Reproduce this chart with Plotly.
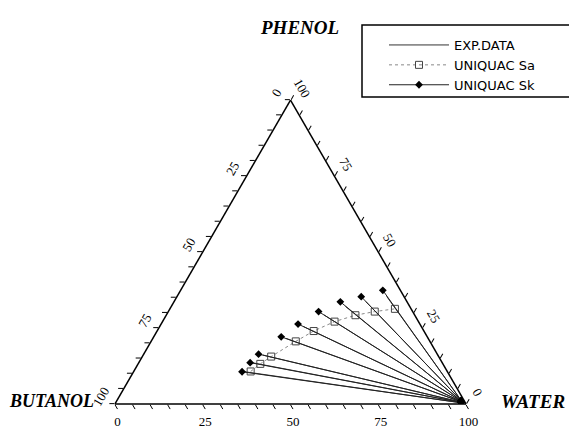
import plotly.graph_objects as go

# tie lines, mass %  (phenol, butanol, water)
# experimental organic-phase ends
exp_phenol = [10.6, 13.5, 16.1, 21.6, 25.5, 29.3, 32.1, 33.7, 35.4]
exp_butanol = [57.7, 53.8, 49.8, 40.5, 33.6, 25.8, 18.3, 11.7, 4.9]
exp_water = [31.7, 32.7, 34.1, 37.9, 40.9, 44.9, 49.6, 54.6, 59.7]

# aqueous-phase ends (all crowd into the water corner)
aq_phenol = [0.4, 0.5, 0.6, 0.7, 0.8, 0.9, 1.0, 1.1, 1.2]
aq_butanol = [1.2, 1.1, 1.1, 1.0, 1.0, 0.9, 0.9, 0.8, 0.8]
aq_water = [98.4, 98.4, 98.3, 98.3, 98.2, 98.2, 98.1, 98.1, 98.0]

# UNIQUAC Sa, organic phase
sa_phenol = [10.7, 13.2, 15.6, 20.6, 24.0, 27.1, 29.2, 30.4, 31.3]
sa_butanol = [56.0, 52.0, 47.7, 38.2, 31.4, 23.9, 16.9, 10.8, 4.6]
sa_water = [33.3, 34.8, 36.7, 41.2, 44.6, 49.0, 53.9, 58.8, 64.1]

# UNIQUAC Sk, organic phase
sk_phenol = [10.6, 13.6, 16.4, 22.1, 26.3, 30.4, 33.6, 35.3, 37.4]
sk_butanol = [58.5, 54.7, 50.9, 41.6, 34.7, 26.8, 19.0, 12.2, 5.0]
sk_water = [30.9, 31.7, 32.7, 36.3, 39.0, 42.8, 47.4, 52.5, 57.6]

tick_vals = list(range(0, 101, 5))
tick_text = [str(100 - v) if v % 25 == 0 else '' for v in tick_vals]


def segments(p1, b1, w1, p2, b2, w2):
    a, b, c = [], [], []
    for i in range(len(p1)):
        a += [p1[i], p2[i], None]
        b += [b1[i], b2[i], None]
        c += [w1[i], w2[i], None]
    return a, b, c


fig = go.Figure()

ea, eb, ec = segments(exp_phenol, exp_butanol, exp_water, aq_phenol, aq_butanol, aq_water)
fig.add_trace(go.Scatterternary(
    name='EXP.DATA',
    a=ea, b=eb, c=ec,
    mode='lines',
    line=dict(color='#333333', width=1),
))

fig.add_trace(go.Scatterternary(
    name='UNIQUAC Sa',
    a=sa_phenol, b=sa_butanol, c=sa_water,
    mode='lines+markers',
    line=dict(color='#888888', width=1, dash='dot'),
    marker=dict(symbol='square-open', size=7, color='#444444', line=dict(width=1)),
))

ka, kb, kc = segments(sk_phenol, sk_butanol, sk_water, aq_phenol, aq_butanol, aq_water)
fig.add_trace(go.Scatterternary(
    name='UNIQUAC Sk',
    a=ka, b=kb, c=kc,
    mode='lines+markers',
    line=dict(color='#222222', width=1),
    marker=dict(symbol='diamond', size=6, color='black'),
))

axis_style = dict(
    tickmode='array',
    tickvals=tick_vals,
    ticktext=tick_text,
    ticks='outside',
    ticklen=5,
    tickwidth=1,
    tickcolor='black',
    linecolor='black',
    linewidth=1.5,
    showgrid=False,
    tickfont=dict(family='Liberation Serif', size=13, color='black'),
    title=dict(text=''),
)

# page body has an 8px margin, so the figure is 8px smaller than the window
W, H = 569, 430
title_font = dict(family='Liberation Serif', size=19, color='black')

fig.update_layout(
    width=W, height=H,
    margin=dict(l=0, r=0, t=0, b=0),
    paper_bgcolor='white',
    ternary=dict(
        sum=100,
        bgcolor='white',
        domain=dict(x=[107 / W, 458 / W], y=[1 - 396 / H, 1 - 92 / H]),
        aaxis=dict(axis_style, tickangle=-60),
        baxis=dict(axis_style),
        caxis=dict(axis_style, tickangle=60),
    ),
    showlegend=True,
    legend=dict(
        x=376 / W, y=1 - 22 / H, xanchor='left', yanchor='top',
        bgcolor='rgba(0,0,0,0)', borderwidth=0,
        font=dict(family='DejaVu Sans', size=13, color='black'),
        itemwidth=60,
    ),
    # legend frame
    shapes=[dict(type='rect', xref='paper', yref='paper',
                 x0=354 / W, x1=565 / W, y0=1 - 89 / H, y1=1 - 17 / H,
                 line=dict(color='black', width=1.5))],
    annotations=[
        dict(text='<b><i>PHENOL</i></b>', x=291 / W, y=1 - 7 / H, xref='paper', yref='paper',
             xanchor='center', showarrow=False, font=title_font),
        dict(text='<b><i>BUTANOL</i></b>', x=43 / W, y=1 - 405 / H, xref='paper', yref='paper',
             xanchor='center', showarrow=False, font=dict(title_font, size=18)),
        dict(text='<b><i>WATER</i></b>', x=525 / W, y=1 - 406 / H, xref='paper', yref='paper',
             xanchor='center', showarrow=False, font=title_font),
    ],
)

fig.write_html("out.html")
